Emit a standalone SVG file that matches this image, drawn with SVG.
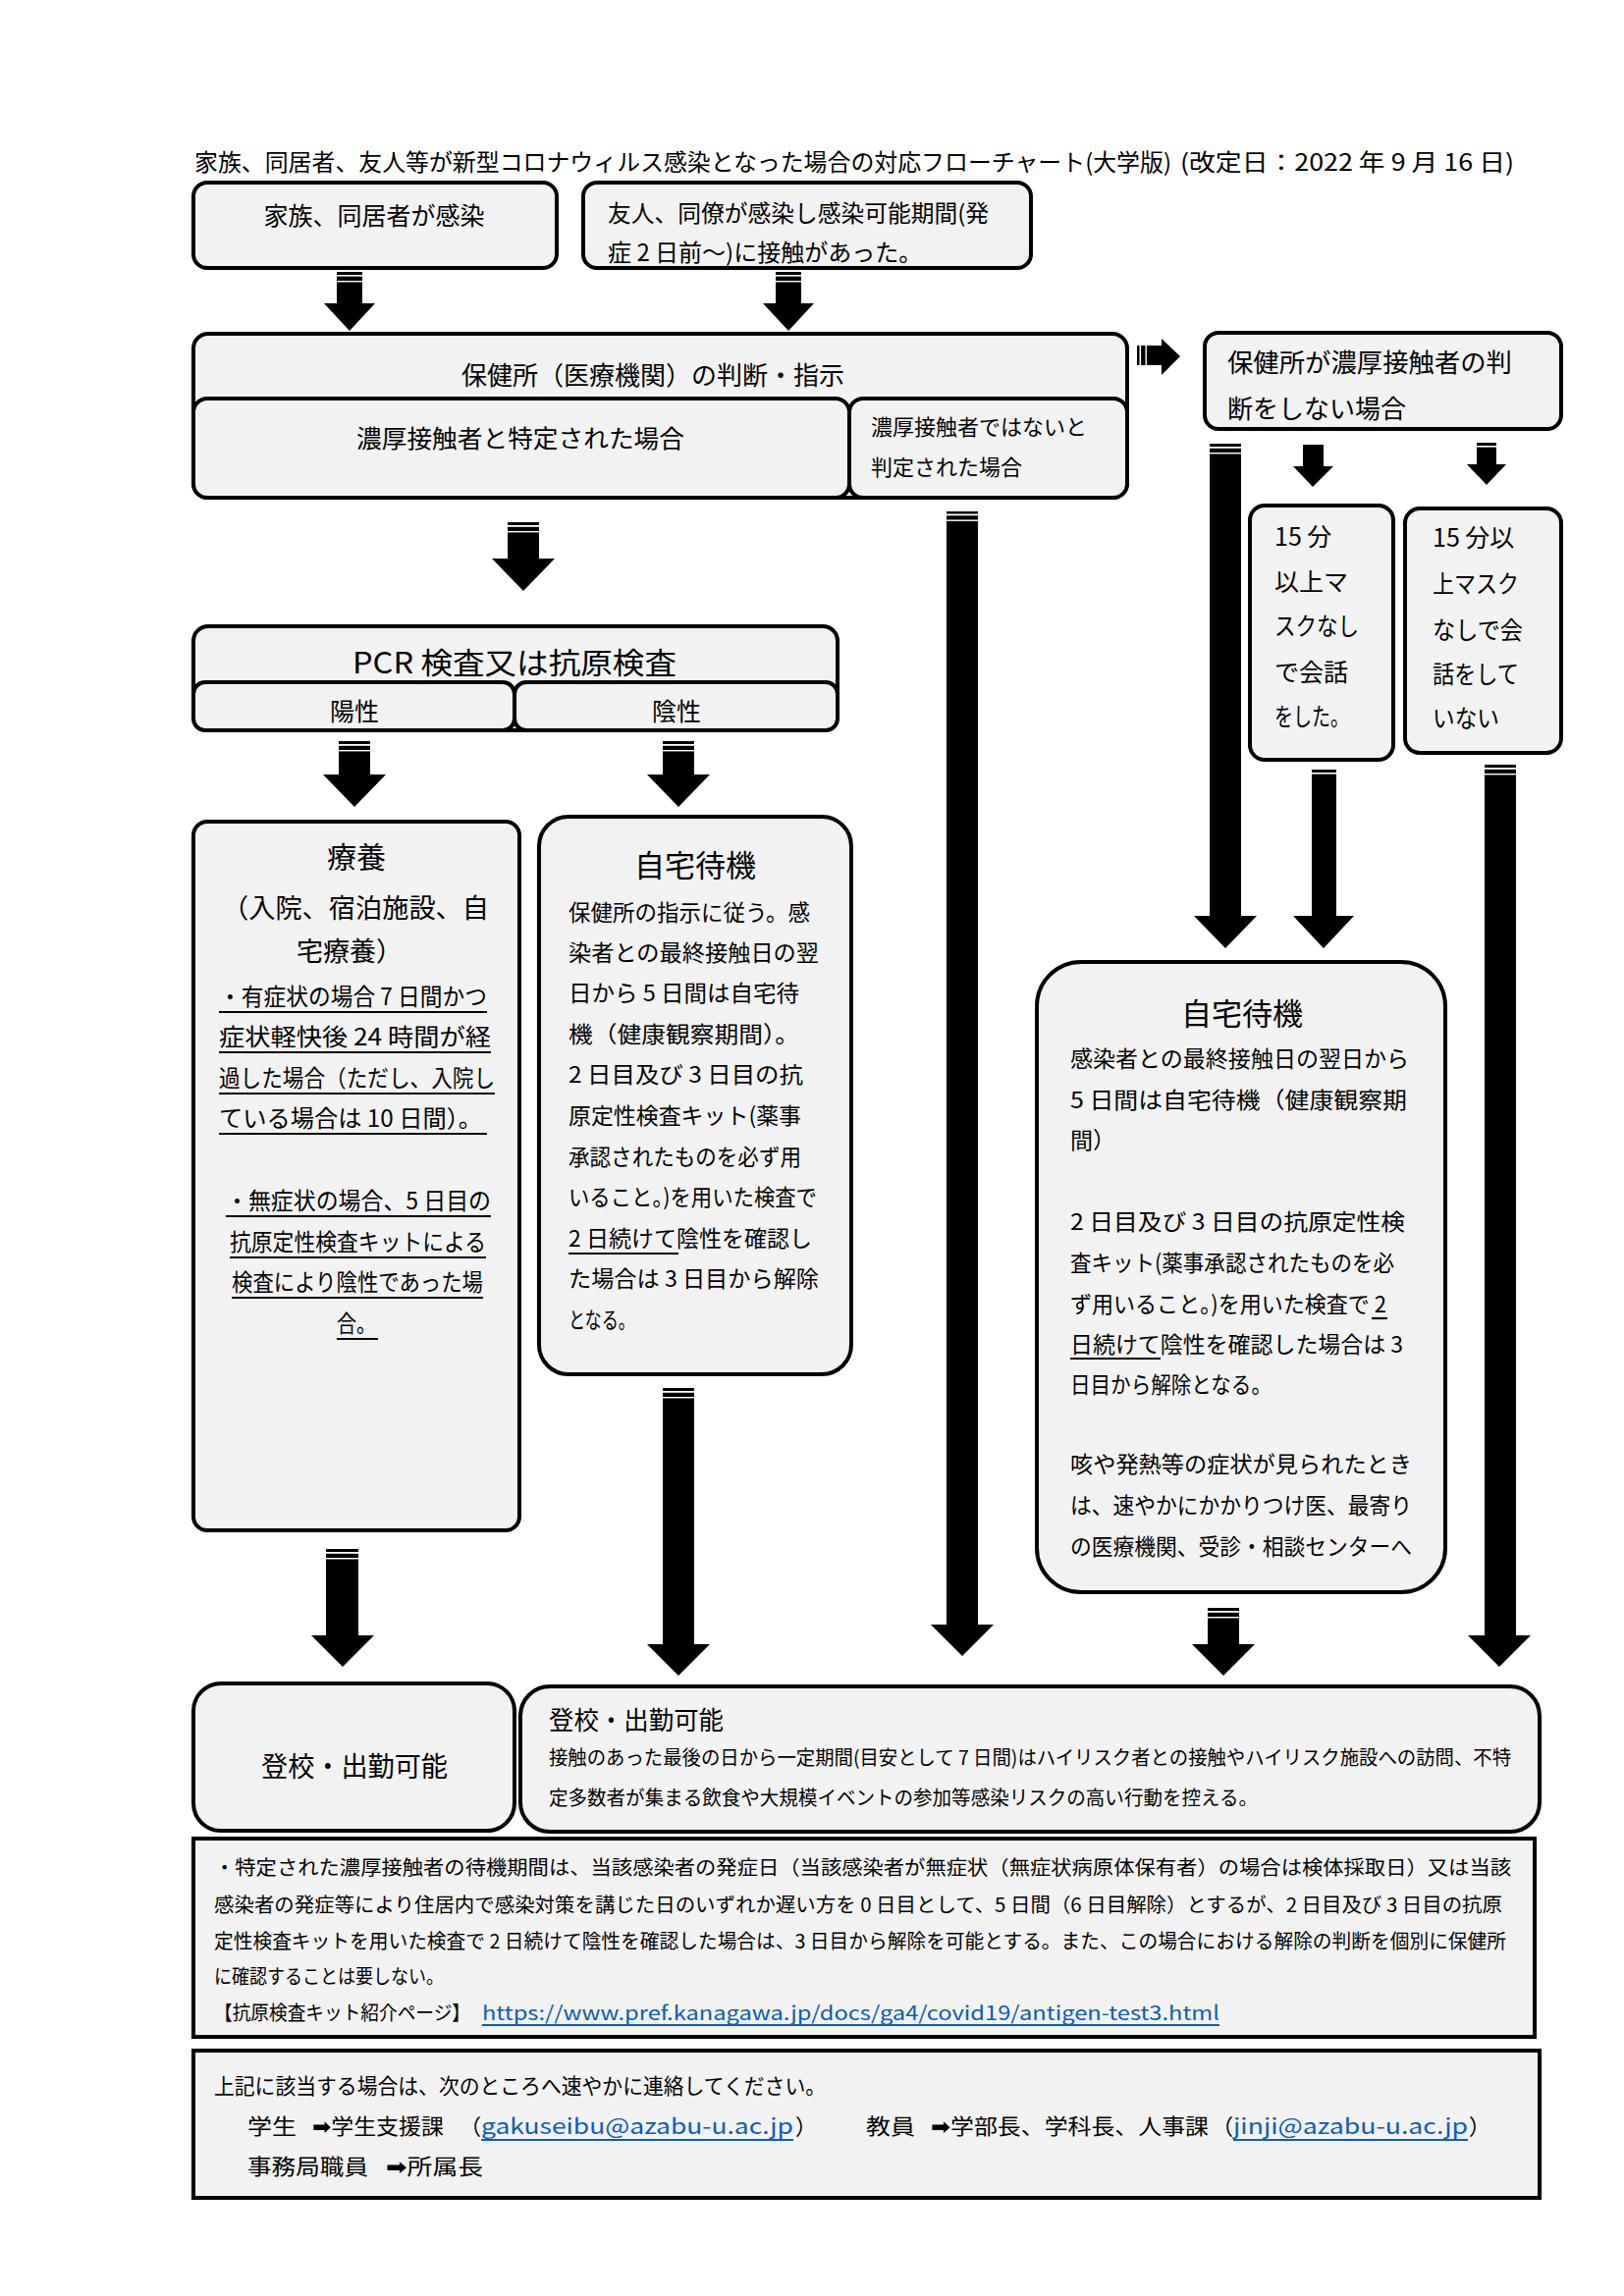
<svg xmlns="http://www.w3.org/2000/svg" width="1654" height="2339" viewBox="0 0 1654 2339">
<style>
.box{fill:#f2f2f2;stroke:#000;stroke-width:4}
.t{font-family:"Noto Sans CJK JP","Noto Sans",sans-serif;fill:#000}
.m{text-anchor:middle}
.ar{fill:#000}
.st{fill:#fff}
.ul{stroke:#000;stroke-width:2.2}
.lk{fill:#0b5cb8}
.lkul{stroke:#0b5cb8;stroke-width:1.8}
.sym{font-family:"DejaVu Sans",sans-serif;font-weight:bold}
</style>
<rect width="1654" height="2339" fill="#fff"/>

<g id="title">
<text class="t" x="198" y="174" font-size="24" textLength="995" lengthAdjust="spacingAndGlyphs">家族、同居者、友人等が新型コロナウィルス感染となった場合の対応フローチャート(大学版)</text>
<text class="t" x="1202" y="174" font-size="24" textLength="340" lengthAdjust="spacingAndGlyphs" fill="#222">(改定日：2022 年 9 月 16 日)</text>
</g>

<g id="n-family">
<rect class="box" x="197" y="186" width="370" height="87" rx="14"/>
<text class="t m" x="381" y="229" font-size="25">家族、同居者が感染</text>
</g>

<g id="n-friend">
<rect class="box" x="594" y="186" width="456" height="87" rx="14"/>
<text class="t" x="619" y="226" font-size="24" textLength="388" lengthAdjust="spacingAndGlyphs">友人、同僚が感染し感染可能期間(発</text>
<text class="t" x="619" y="266" font-size="24">症 2 日前～)に接触があった。</text>
</g>

<g id="n-hokenjo">
<rect class="box" x="197" y="340" width="951" height="167" rx="15"/>
<text class="t m" x="665" y="392" font-size="26">保健所（医療機関）の判断・指示</text>
</g>

<g id="n-close-contact">
<rect class="box" x="197" y="406" width="668" height="101" rx="14"/>
<text class="t m" x="530" y="456" font-size="25" textLength="334" lengthAdjust="spacingAndGlyphs">濃厚接触者と特定された場合</text>
</g>

<g id="n-not-close">
<rect class="box" x="865" y="406" width="283" height="101" rx="14"/>
<text class="t" x="887" y="443" font-size="22" textLength="220" lengthAdjust="spacingAndGlyphs">濃厚接触者ではないと</text>
<text class="t" x="887" y="484" font-size="22">判定された場合</text>
</g>

<g id="n-no-judgement">
<rect class="box" x="1227" y="339" width="363" height="98" rx="14"/>
<text class="t" x="1250" y="379" font-size="26" textLength="290" lengthAdjust="spacingAndGlyphs">保健所が濃厚接触者の判</text>
<text class="t" x="1250" y="426" font-size="26">断をしない場合</text>
</g>

<g id="n-15min-yes">
<rect class="box" x="1273" y="515" width="146" height="259" rx="15"/>
<text class="t" x="1298" y="556" font-size="25">15 分</text>
<text class="t" x="1298" y="602" font-size="25">以上マ</text>
<text class="t" x="1298" y="647" font-size="25" textLength="86" lengthAdjust="spacingAndGlyphs">スクなし</text>
<text class="t" x="1298" y="694" font-size="25">で会話</text>
<text class="t" x="1298" y="739" font-size="25" textLength="76" lengthAdjust="spacingAndGlyphs">をした。</text>
</g>

<g id="n-15min-no">
<rect class="box" x="1431" y="518" width="159" height="249" rx="15"/>
<text class="t" x="1459" y="557" font-size="25">15 分以</text>
<text class="t" x="1459" y="604" font-size="25" textLength="88" lengthAdjust="spacingAndGlyphs">上マスク</text>
<text class="t" x="1459" y="651" font-size="25" textLength="92" lengthAdjust="spacingAndGlyphs">なしで会</text>
<text class="t" x="1459" y="696" font-size="25" textLength="88" lengthAdjust="spacingAndGlyphs">話をして</text>
<text class="t" x="1459" y="741" font-size="25" textLength="68" lengthAdjust="spacingAndGlyphs">いない</text>
</g>

<g id="n-test">
<rect class="box" x="197" y="638" width="656" height="106" rx="15"/>
<text class="t m" x="524" y="686" font-size="30" textLength="330" lengthAdjust="spacingAndGlyphs">PCR 検査又は抗原検査</text>
</g>
<g id="n-positive">
<rect class="box" x="197" y="695" width="327" height="49" rx="12"/>
<text class="t m" x="361" y="734" font-size="25">陽性</text>
</g>
<g id="n-negative">
<rect class="box" x="524" y="695" width="329" height="49" rx="12"/>
<text class="t m" x="689" y="734" font-size="25">陰性</text>
</g>

<g id="n-ryoyo">
<rect class="box" x="197" y="837" width="332" height="722" rx="14"/>
<text class="t m" x="363" y="884" font-size="30">療養</text>
<text class="t m" x="362" y="935" font-size="27" textLength="272" lengthAdjust="spacingAndGlyphs">（入院、宿泊施設、自</text>
<text class="t m" x="356" y="979" font-size="27">宅療養）</text>
<text class="t" x="223" y="1024" font-size="24" textLength="273" lengthAdjust="spacingAndGlyphs">・有症状の場合 7 日間かつ</text>
<text class="t" x="223" y="1065" font-size="24" textLength="277" lengthAdjust="spacingAndGlyphs">症状軽快後  24  時間が経</text>
<text class="t" x="223" y="1107" font-size="24" textLength="281" lengthAdjust="spacingAndGlyphs">過した場合（ただし、入院し</text>
<text class="t" x="223" y="1148" font-size="24" textLength="268" lengthAdjust="spacingAndGlyphs">ている場合は  10 日間）。</text>
<text class="t" x="230" y="1232" font-size="24" textLength="270" lengthAdjust="spacingAndGlyphs">・無症状の場合、5 日目の</text>
<text class="t" x="234" y="1274" font-size="24" textLength="261" lengthAdjust="spacingAndGlyphs">抗原定性検査キットによる</text>
<text class="t" x="236" y="1315" font-size="24" textLength="256" lengthAdjust="spacingAndGlyphs">検査により陰性であった場</text>
<text class="t" x="343" y="1357" font-size="24" textLength="40" lengthAdjust="spacingAndGlyphs">合。</text>
<line class="ul" x1="223" y1="1031" x2="496" y2="1031"/>
<line class="ul" x1="223" y1="1072" x2="500" y2="1072"/>
<line class="ul" x1="223" y1="1114" x2="504" y2="1114"/>
<line class="ul" x1="223" y1="1155" x2="496" y2="1155"/>
<line class="ul" x1="230" y1="1239" x2="500" y2="1239"/>
<line class="ul" x1="234" y1="1281" x2="495" y2="1281"/>
<line class="ul" x1="236" y1="1322" x2="492" y2="1322"/>
<line class="ul" x1="343" y1="1364" x2="385" y2="1364"/>
</g>

<g id="n-home-mid">
<rect class="box" x="549" y="832" width="318" height="568" rx="30"/>
<text class="t m" x="708" y="893" font-size="31">自宅待機</text>
<text class="t" x="579" y="938" font-size="23" textLength="246" lengthAdjust="spacingAndGlyphs">保健所の指示に従う。感</text>
<text class="t" x="579" y="979" font-size="23" textLength="255" lengthAdjust="spacingAndGlyphs">染者との最終接触日の翌</text>
<text class="t" x="579" y="1020" font-size="23" textLength="235" lengthAdjust="spacingAndGlyphs">日から 5 日間は自宅待</text>
<text class="t" x="579" y="1062" font-size="23" textLength="235" lengthAdjust="spacingAndGlyphs">機（健康観察期間）。</text>
<text class="t" x="579" y="1103" font-size="23" textLength="239" lengthAdjust="spacingAndGlyphs">2 日目及び 3 日目の抗</text>
<text class="t" x="579" y="1145" font-size="23" textLength="237" lengthAdjust="spacingAndGlyphs">原定性検査キット(薬事</text>
<text class="t" x="579" y="1187" font-size="23" textLength="237" lengthAdjust="spacingAndGlyphs">承認されたものを必ず用</text>
<text class="t" x="579" y="1228" font-size="23" textLength="253" lengthAdjust="spacingAndGlyphs">いること。)を用いた検査で</text>
<text class="t" x="579" y="1270" font-size="23" textLength="248" lengthAdjust="spacingAndGlyphs">2 日続けて陰性を確認し</text>
<text class="t" x="579" y="1311" font-size="23" textLength="255" lengthAdjust="spacingAndGlyphs">た場合は 3 日目から解除</text>
<text class="t" x="579" y="1353" font-size="23" textLength="68" lengthAdjust="spacingAndGlyphs">となる。</text>
<line class="ul" x1="579" y1="1277" x2="691" y2="1277"/>
</g>

<g id="n-home-right">
<rect class="box" x="1056" y="980" width="416" height="642" rx="45"/>
<text class="t m" x="1265" y="1044" font-size="31">自宅待機</text>
<text class="t" x="1090" y="1087" font-size="23" textLength="345" lengthAdjust="spacingAndGlyphs">感染者との最終接触日の翌日から</text>
<text class="t" x="1090" y="1129" font-size="23" textLength="343" lengthAdjust="spacingAndGlyphs">5 日間は自宅待機（健康観察期</text>
<text class="t" x="1090" y="1170" font-size="23">間）</text>
<text class="t" x="1090" y="1253" font-size="23" textLength="341" lengthAdjust="spacingAndGlyphs">2 日目及び 3 日目の抗原定性検</text>
<text class="t" x="1090" y="1295" font-size="23" textLength="330" lengthAdjust="spacingAndGlyphs">査キット(薬事承認されたものを必</text>
<text class="t" x="1090" y="1337" font-size="23" textLength="322" lengthAdjust="spacingAndGlyphs">ず用いること。)を用いた検査で 2</text>
<text class="t" x="1090" y="1378" font-size="23" textLength="339" lengthAdjust="spacingAndGlyphs">日続けて陰性を確認した場合は 3</text>
<text class="t" x="1090" y="1419" font-size="23" textLength="205" lengthAdjust="spacingAndGlyphs">日目から解除となる。</text>
<text class="t" x="1090" y="1500" font-size="23" textLength="348" lengthAdjust="spacingAndGlyphs">咳や発熱等の症状が見られたとき</text>
<text class="t" x="1090" y="1542" font-size="23" textLength="348" lengthAdjust="spacingAndGlyphs">は、速やかにかかりつけ医、最寄り</text>
<text class="t" x="1090" y="1584" font-size="23" textLength="348" lengthAdjust="spacingAndGlyphs">の医療機関、受診・相談センターへ</text>
<line class="ul" x1="1397" y1="1343" x2="1413" y2="1343"/>
<line class="ul" x1="1090" y1="1384" x2="1182" y2="1384"/>
</g>

<g id="n-ok-left">
<rect class="box" x="197" y="1715" width="327" height="150" rx="28"/>
<text class="t m" x="361" y="1810" font-size="28" textLength="190" lengthAdjust="spacingAndGlyphs">登校・出勤可能</text>
</g>

<g id="n-ok-right">
<rect class="box" x="530" y="1718" width="1038" height="148" rx="30"/>
<text class="t" x="559" y="1762" font-size="26" textLength="178" lengthAdjust="spacingAndGlyphs">登校・出勤可能</text>
<text class="t" x="559" y="1798" font-size="20" textLength="980" lengthAdjust="spacingAndGlyphs">接触のあった最後の日から一定期間(目安として 7 日間)はハイリスク者との接触やハイリスク施設への訪問、不特</text>
<text class="t" x="559" y="1839" font-size="20" textLength="722" lengthAdjust="spacingAndGlyphs">定多数者が集まる飲食や大規模イベントの参加等感染リスクの高い行動を控える。</text>
</g>

<g id="n-note">
<rect class="box" x="197" y="1873" width="1366" height="202"/>
<text class="t" x="218" y="1910" font-size="20" textLength="1321" lengthAdjust="spacingAndGlyphs">・特定された濃厚接触者の待機期間は、当該感染者の発症日（当該感染者が無症状（無症状病原体保有者）の場合は検体採取日）又は当該</text>
<text class="t" x="218" y="1948" font-size="20" textLength="1312" lengthAdjust="spacingAndGlyphs">感染者の発症等により住居内で感染対策を講じた日のいずれか遅い方を 0 日目として、5 日間（6 日目解除）とするが、2 日目及び 3 日目の抗原</text>
<text class="t" x="218" y="1985" font-size="20" textLength="1316" lengthAdjust="spacingAndGlyphs">定性検査キットを用いた検査で 2 日続けて陰性を確認した場合は、3 日目から解除を可能とする。また、この場合における解除の判断を個別に保健所</text>
<text class="t" x="218" y="2021" font-size="20" textLength="234" lengthAdjust="spacingAndGlyphs">に確認することは要しない。</text>
<text class="t" x="218" y="2058" font-size="20" textLength="261" lengthAdjust="spacingAndGlyphs">【抗原検査キット紹介ページ】</text>
<text class="t lk" x="491" y="2058" font-size="20" textLength="751" lengthAdjust="spacingAndGlyphs">https://www.pref.kanagawa.jp/docs/ga4/covid19/antigen-test3.html</text>
<line class="lkul" x1="491" y1="2063" x2="1242" y2="2063"/>
</g>

<g id="n-contact">
<rect class="box" x="197" y="2089" width="1371" height="150"/>
<text class="t" x="218" y="2133" font-size="22" textLength="623" lengthAdjust="spacingAndGlyphs">上記に該当する場合は、次のところへ速やかに連絡してください。</text>
<text class="t" x="252" y="2174" font-size="22" textLength="50" lengthAdjust="spacingAndGlyphs">学生</text>
<text class="t" x="318" y="2174" font-size="22" textLength="134" lengthAdjust="spacingAndGlyphs"><tspan class="sym">➡</tspan>学生支援課</text>
<text class="t" x="468" y="2174" font-size="22">（</text>
<text class="t lk" x="490" y="2174" font-size="22" textLength="318" lengthAdjust="spacingAndGlyphs">gakuseibu@azabu-u.ac.jp</text>
<line class="lkul" x1="490" y1="2180" x2="808" y2="2180"/>
<text class="t" x="810" y="2174" font-size="22">）</text>
<text class="t" x="882" y="2174" font-size="22" textLength="50" lengthAdjust="spacingAndGlyphs">教員</text>
<text class="t" x="948" y="2174" font-size="22" textLength="283" lengthAdjust="spacingAndGlyphs"><tspan class="sym">➡</tspan>学部長、学科長、人事課</text>
<text class="t" x="1234" y="2174" font-size="22">（</text>
<text class="t lk" x="1256" y="2174" font-size="22" textLength="239" lengthAdjust="spacingAndGlyphs">jinji@azabu-u.ac.jp</text>
<line class="lkul" x1="1256" y1="2180" x2="1495" y2="2180"/>
<text class="t" x="1496" y="2174" font-size="22">）</text>
<text class="t" x="252" y="2215" font-size="22" textLength="123" lengthAdjust="spacingAndGlyphs">事務局職員</text>
<text class="t" x="393" y="2215" font-size="22" textLength="99" lengthAdjust="spacingAndGlyphs"><tspan class="sym">➡</tspan>所属長</text>
</g>

<g id="connectors">
<polygon class="ar" points="343,277 369,277 369,309 382,309 356,337 330,309 343,309"/>
<polygon class="ar" points="790,277 816,277 816,309 829,309 803,337 777,309 790,309"/>
<polygon class="ar" points="1158,352 1183,352 1183,345 1202,363 1183,382 1183,372 1158,372"/>
<rect class="st" x="1160.5" y="352" width="1.6" height="20"/>
<rect class="st" x="1166.5" y="352" width="1.4" height="20"/>
<polygon class="ar" points="517,532 549,532 549,569 565,569 533,602 501,569 517,569"/>
<polygon class="ar" points="345,755 377,755 377,789 393,789 361,822 329,789 345,789"/>
<polygon class="ar" points="675,755 707,755 707,789 723,789 691,822 659,789 675,789"/>
<polygon class="ar" points="964,521 996,521 996,1655 1012,1655 980,1687 948,1655 964,1655"/>
<polygon class="ar" points="1232,452 1264,452 1264,933 1280,933 1248,966 1216,933 1232,933"/>
<polygon class="ar" points="1327,453 1348,453 1348,475 1358,475 1337,496 1317,475 1327,475"/>
<polygon class="ar" points="1504,451 1524,451 1524,473 1534,473 1514,494 1494,473 1504,473"/>
<polygon class="ar" points="1336,784 1361,784 1361,933 1379,933 1348,966 1317,933 1336,933"/>
<polygon class="ar" points="1512,779 1544,779 1544,1666 1559,1666 1527,1698 1495,1666 1512,1666"/>
<polygon class="ar" points="332,1578 365,1578 365,1666 381,1666 349,1698 317,1666 332,1666"/>
<polygon class="ar" points="675,1414 707,1414 707,1675 723,1675 691,1707 659,1675 675,1675"/>
<polygon class="ar" points="1230,1638 1262,1638 1262,1675 1278,1675 1246,1707 1214,1675 1230,1675"/>
<g class="st">
<rect x="343" y="280" width="26" height="1.6"/><rect x="343" y="286" width="26" height="1.4"/>
<rect x="790" y="280" width="26" height="1.6"/><rect x="790" y="286" width="26" height="1.4"/>
<rect x="517" y="535" width="32" height="1.8"/><rect x="517" y="541" width="32" height="1.4"/>
<rect x="345" y="758" width="32" height="1.8"/><rect x="345" y="764" width="32" height="1.4"/>
<rect x="675" y="758" width="32" height="1.8"/><rect x="675" y="764" width="32" height="1.4"/>
<rect x="964" y="523.5" width="32" height="1.8"/><rect x="964" y="529.5" width="32" height="1.4"/>
<rect x="1232" y="455" width="32" height="1.8"/><rect x="1232" y="461" width="32" height="1.4"/>
<rect x="1504" y="454" width="20" height="1.6"/>
<rect x="1336" y="787" width="25" height="1.6"/>
<rect x="1512" y="782" width="32" height="1.8"/><rect x="1512" y="788" width="32" height="1.4"/>
<rect x="332" y="1581" width="33" height="1.8"/><rect x="332" y="1587" width="33" height="1.4"/>
<rect x="675" y="1417" width="32" height="1.8"/><rect x="675" y="1423" width="32" height="1.4"/>
<rect x="1230" y="1641" width="32" height="1.8"/><rect x="1230" y="1647" width="32" height="1.4"/>
</g>
</g>
</svg>
